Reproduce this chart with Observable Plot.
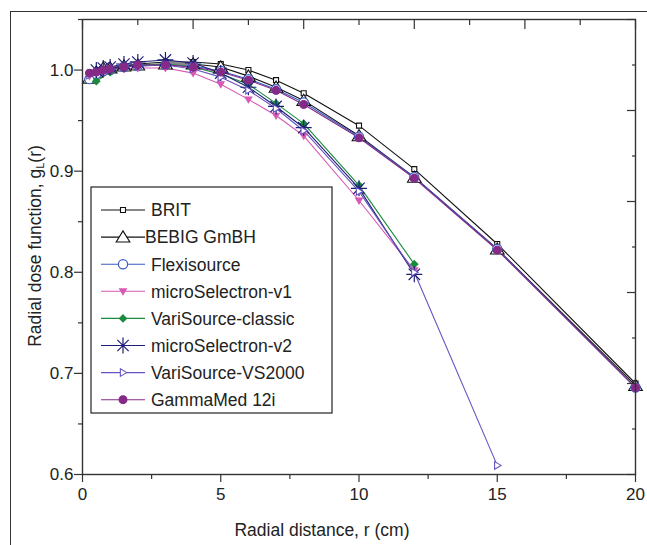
<!DOCTYPE html>
<html><head><meta charset="utf-8">
<script src="https://cdn.jsdelivr.net/npm/d3@7"></script>
<script src="https://cdn.jsdelivr.net/npm/@observablehq/plot@0.6"></script>
<style>
body{margin:0;background:#fff;font-family:"Liberation Sans",Arial,sans-serif;}
#wrap{position:relative;width:647px;height:545px;overflow:hidden;}
#border{position:absolute;left:10px;top:11px;width:700px;height:600px;border-left:1.5px solid #333;border-top:1.5px solid #333;}
#chart{position:absolute;left:0;top:0;}
.title{position:absolute;white-space:nowrap;font-size:17.5px;color:#222;line-height:1;}
#ytitle{left:36px;top:246px;transform:translate(-50%,-50%) rotate(-90deg);}
#ytitle sub{font-size:11px;vertical-align:-3px;}
#xtitle{left:322px;top:531px;transform:translate(-50%,-50%);}
</style></head><body>
<div id="wrap"><div id="border"></div><div id="chart"></div>
<div class="title" id="ytitle">Radial dose function, g<sub>L</sub>(r)</div>
<div class="title" id="xtitle">Radial distance, r (cm)</div>
</div>
<script>
// ---- data ----
const seriesNames = ["BRIT","BEBIG GmBH","Flexisource","microSelectron-v1","VariSource-classic","microSelectron-v2","VariSource-VS2000","GammaMed 12i"];
const r_BRIT = [0.25,0.5,0.75,1,1.5,2,3,4,5,6,7,8,10,12,15,20];
const g_BRIT = [0.993,0.997,0.999,1.001,1.004,1.006,1.008,1.008,1.006,1.000,0.990,0.977,0.945,0.902,0.828,0.690];
const r_BEBIG = [0.25,0.5,0.75,1,1.5,2,3,4,5,6,7,8,10,12,15,20];
const g_BEBIG = [0.992,0.998,1.002,1.002,1.004,1.005,1.006,1.006,1.003,0.994,0.983,0.970,0.935,0.894,0.823,0.688];
const r_Flexi = [0.25,0.5,0.75,1,1.5,2,3,4,5,6,7,8,10,12,15,20];
const g_Flexi = [0.991,0.996,0.999,1.000,1.003,1.004,1.005,1.004,0.999,0.991,0.981,0.968,0.934,0.894,0.823,0.686];
const r_mSv1 = [0.25,0.5,0.75,1,1.5,2,3,4,5,6,7,8,10,12];
const g_mSv1 = [0.994,0.997,0.998,0.999,1.001,1.002,1.002,0.997,0.986,0.971,0.955,0.935,0.871,0.802];
const r_VSc = [0.5,1,1.5,2,3,4,5,6,7,8,10,12];
const g_VSc = [0.989,0.998,1.002,1.005,1.006,1.003,0.996,0.986,0.967,0.947,0.886,0.808];
const r_mSv2 = [0.5,0.75,1,1.5,2,3,4,5,6,7,8,10,12];
const g_mSv2 = [1.000,1.002,1.003,1.006,1.008,1.010,1.007,0.997,0.983,0.964,0.943,0.883,0.798];
const r_VS2000 = [0.25,0.5,1,1.5,2,3,4,5,6,7,8,10,12,15];
const g_VS2000 = [0.995,0.998,1.001,1.003,1.004,1.005,1.001,0.993,0.980,0.962,0.940,0.880,0.800,0.609];
const r_GM = [0.25,0.5,0.75,1,1.5,2,3,4,5,6,7,8,10,12,15,20];
const g_GM = [0.997,0.998,1.000,1.001,1.003,1.005,1.005,1.003,0.998,0.990,0.980,0.966,0.933,0.893,0.822,0.686];

const xMajorTicks = [0,5,10,15,20];
const xMinorTicks = [2.5,7.5,12.5,17.5];
const xTopMajor = [0,4,8,12,16,20];
const xTopMinor = [2,6,10,14,18];
const yMajorTicks = [0.6,0.7,0.8,0.9,1.0];
const yMinorTicks = [0.65,0.75,0.85,0.95,1.05];
const yRightMajor = [0.6,0.69,0.78,0.87,0.96,1.05];
const yRightMinor = [0.645,0.735,0.825,0.915,1.005];

// ---- symbols ----
function sym(fn){ return {draw(c,size){ const r=Math.sqrt(size/Math.PI); fn(c,r);} }; }
const SYM = {
  square: sym((c,r)=>{c.moveTo(-r,-r);c.lineTo(r,-r);c.lineTo(r,r);c.lineTo(-r,r);c.closePath();}),
  triUp: sym((c,r)=>{c.moveTo(0,-r);c.lineTo(r*1.1,r*0.8);c.lineTo(-r*1.1,r*0.8);c.closePath();}),
  triDown: sym((c,r)=>{c.moveTo(0,r);c.lineTo(r,-r*0.7);c.lineTo(-r,-r*0.7);c.closePath();}),
  triRight: sym((c,r)=>{c.moveTo(r,0);c.lineTo(-r*0.7,-r);c.lineTo(-r*0.7,r);c.closePath();}),
  circle: sym((c,r)=>{c.moveTo(r,0);c.arc(0,0,r,0,2*Math.PI);}),
  diamond: sym((c,r)=>{c.moveTo(0,-r);c.lineTo(r,0);c.lineTo(0,r);c.lineTo(-r,0);c.closePath();}),
  aster: sym((c,r)=>{for(let k=0;k<4;k++){const a=k*Math.PI/4;c.moveTo(r*Math.cos(a),r*Math.sin(a));c.lineTo(-r*Math.cos(a),-r*Math.sin(a));}})
};

const styles = [
  {color:"#111111", symbol:"square", r:2.5, filled:false, sw:1.1},
  {color:"#111111", symbol:"triUp", r:6.2, filled:false, sw:1.1},
  {color:"#3a5cc4", symbol:"circle", r:4.6, filled:false, sw:1.2},
  {color:"#d65ab3", symbol:"triDown", r:3.4, filled:true, sw:1.1},
  {color:"#1b8a3e", symbol:"diamond", r:3.6, filled:true, sw:1.1},
  {color:"#1e1e78", symbol:"aster", r:8, filled:false, sw:1.2},
  {color:"#6655c0", symbol:"triRight", r:3.8, filled:false, sw:1.1},
  {color:"#862a88", symbol:"circle", r:3.9, filled:true, sw:1.1}
];
const rs = [r_BRIT,r_BEBIG,r_Flexi,r_mSv1,r_VSc,r_mSv2,r_VS2000,r_GM];
const gs = [g_BRIT,g_BEBIG,g_Flexi,g_mSv1,g_VSc,g_mSv2,g_VS2000,g_GM];
const series = seriesNames.map((name,i)=>({name, data: rs[i].map((r,j)=>({r, g: gs[i][j]})), ...styles[i]}));

const marks = [];
for (const s of series) {
  marks.push(Plot.line(s.data, {x:"r", y:"g", stroke:s.color, strokeWidth:1.1}));
}
for (const s of series) {
  marks.push(Plot.dot(s.data, {x:"r", y:"g", symbol:SYM[s.symbol], r:s.r,
    stroke:s.color, strokeWidth:s.sw, fill: s.filled ? s.color : "white"}));
}
const axStroke = "#333";
const noLabel = () => "";
marks.push(
  Plot.axisX({ticks:xMajorTicks, tickSize:8, tickPadding:5, label:null, stroke:axStroke, strokeWidth:1.2, tickFormat:d3.format("d")}),
  Plot.axisX({ticks:xMinorTicks, tickSize:5, label:null, tickFormat:noLabel, stroke:axStroke, strokeWidth:1.2}),
  Plot.axisX({anchor:"top", ticks:xTopMajor, tickSize:-9, label:null, tickFormat:noLabel, stroke:axStroke, strokeWidth:1.2}),
  Plot.axisX({anchor:"top", ticks:xTopMinor, tickSize:-5, label:null, tickFormat:noLabel, stroke:axStroke, strokeWidth:1.2}),
  Plot.axisY({ticks:yMajorTicks, tickSize:8, tickPadding:1, label:null, stroke:axStroke, strokeWidth:1.2, tickFormat:d3.format(".1f")}),
  Plot.axisY({ticks:yMinorTicks, tickSize:4, label:null, tickFormat:noLabel, stroke:axStroke, strokeWidth:1.2}),
  Plot.axisY({anchor:"right", ticks:yRightMajor, tickSize:-9, label:null, tickFormat:noLabel, stroke:axStroke, strokeWidth:1.2}),
  Plot.axisY({anchor:"right", ticks:yRightMinor, tickSize:-4, label:null, tickFormat:noLabel, stroke:axStroke, strokeWidth:1.2}),
  Plot.frame({stroke:axStroke, strokeWidth:1.4})
);

const chart = Plot.plot({
  width:647, height:545,
  marginLeft:82, marginRight:12, marginTop:19, marginBottom:71,
  x:{domain:[0,20]}, y:{domain:[0.6,1.05]},
  style:{fontFamily:'"Liberation Sans", Arial, sans-serif', fontSize:"17px", color:"#222", background:"transparent", overflow:"visible"},
  marks
});
document.getElementById("chart").appendChild(chart);

// ---- legend ----
const svg = d3.select(chart);
const lg = svg.append("g").attr("text-anchor","start");
lg.append("rect").attr("x",91).attr("y",187).attr("width",241).attr("height",226)
  .attr("fill","white").attr("stroke","#222").attr("stroke-width",1.2);
series.forEach((s,i)=>{
  const y = 210 + i*27.1;
  const g = lg.append("g");
  g.append("line").attr("x1",101).attr("x2",145).attr("y1",y).attr("y2",y)
    .attr("stroke",s.color).attr("stroke-width",1.1);
  const p = d3.path(); SYM[s.symbol].draw(p, s.r*s.r*Math.PI);
  g.append("path").attr("d",p.toString()).attr("transform",`translate(123,${y})`)
    .attr("stroke",s.color).attr("stroke-width",s.sw).attr("fill", s.filled ? s.color : "white");
  g.append("text").attr("x", i===1 ? 145 : 151).attr("y",y).attr("dy","0.36em")
    .attr("font-size","17.5px").attr("fill","#222").text(s.name);
});
</script>
</body></html>
